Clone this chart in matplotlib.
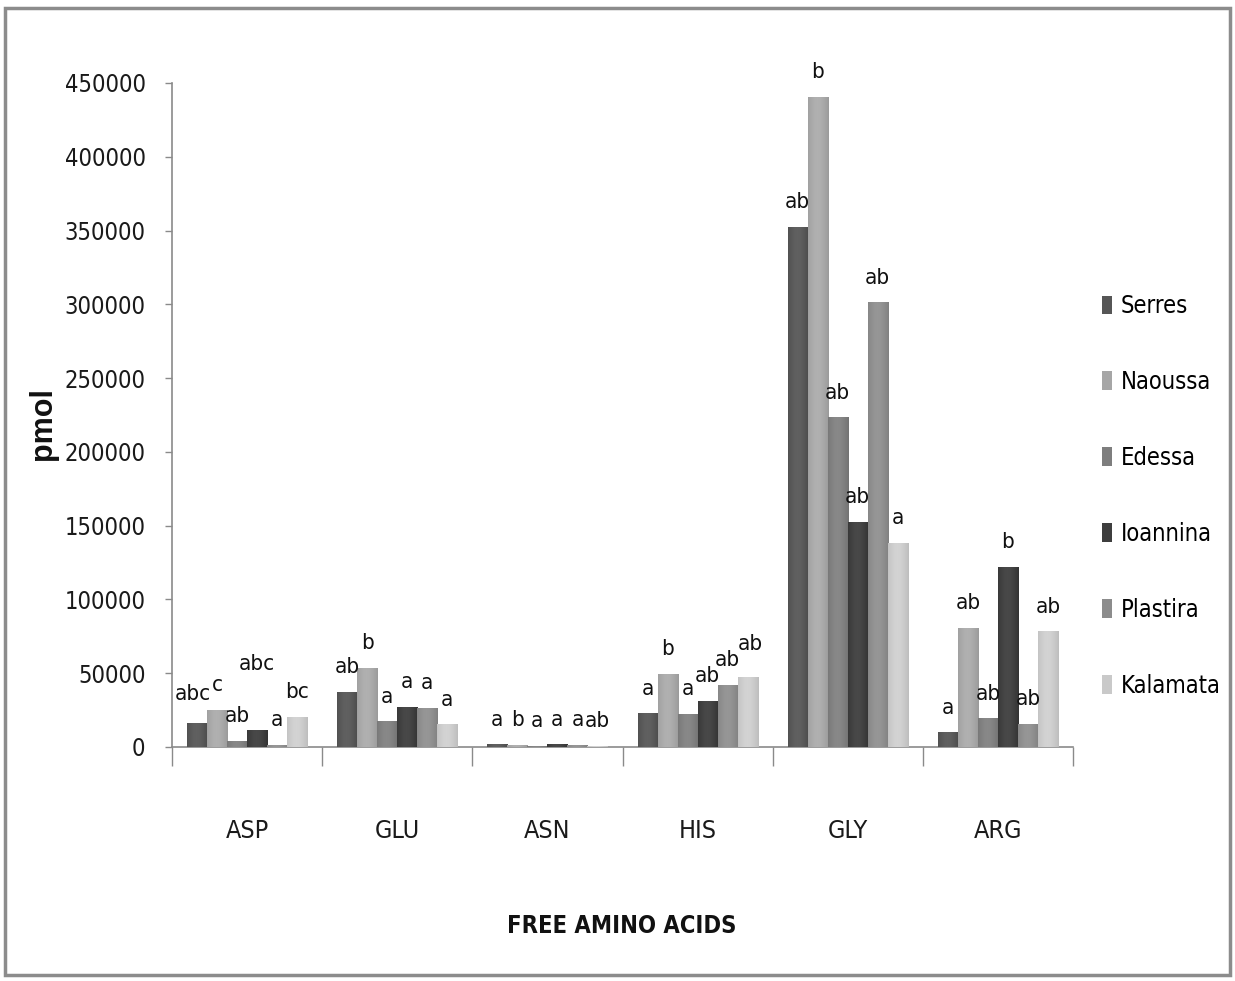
import os
import numpy as np
import matplotlib
matplotlib.use("Agg")
import matplotlib.pyplot as plt
from matplotlib import font_manager
from matplotlib.font_manager import FontProperties
from matplotlib.patches import Patch, Rectangle
from matplotlib.ticker import FixedLocator, NullFormatter

# amino acids on the x axis, one group of bars each
acids = ["ASP", "GLU", "ASN", "HIS", "GLY", "ARG"]
regions = ["Serres", "Naoussa", "Edessa", "Ioannina", "Plastira", "Kalamata"]

# pmol per region, same order as acids
serres   = [16000, 37000, 1500, 22500, 352000, 9500]
naoussa  = [25000, 53500, 1000, 49000, 440000, 80500]
edessa   = [4000, 17000, 500, 22000, 223000, 19000]
ioannina = [11000, 27000, 1500, 31000, 152000, 121500]
plastira = [1000, 26000, 1000, 42000, 301000, 15500]
kalamata = [20000, 15000, 500, 47000, 138000, 78000]

# significance letters above each bar
letters_serres   = ["abc", "ab", "a", "a", "ab", "a"]
letters_naoussa  = ["c", "b", "b", "b", "b", "ab"]
letters_edessa   = ["ab", "a", "a", "a", "ab", "ab"]
letters_ioannina = ["abc", "a", "a", "ab", "ab", "b"]
letters_plastira = ["a", "a", "a", "ab", "ab", "ab"]
letters_kalamata = ["bc", "a", "ab", "ab", "a", "ab"]

series = [serres, naoussa, edessa, ioannina, plastira, kalamata]
letters = [letters_serres, letters_naoussa, letters_edessa,
           letters_ioannina, letters_plastira, letters_kalamata]
greys = ["#565656", "#a6a6a6", "#7e7e7e", "#3e3e3e", "#8c8c8c", "#c9c9c9"]

# labels moved so they don't collide: (series index, acid index) -> (dx, dy) points
nudged = {(3, 0): (0, 30), (0, 0): (-3, 3), (5, 3): (2, 6)}


# look for a narrow sans face; otherwise plain Liberation Sans, a bit smaller
def find_face(bold):
    prefs = ["LiberationSansNarrow", "DejaVuSansCondensed", "RobotoCondensed",
             "OpenSans_Condensed", "OpenSansCondensed", "NotoSans-Condensed",
             "Condensed", "Narrow"]
    ok = set()
    for f in font_manager.fontManager.ttflist:
        base = os.path.basename(f.fname)
        if f.style != "normal":
            continue
        is_bold = "Bold" in base and "SemiBold" not in base and "ExtraBold" not in base
        if is_bold != bold:
            continue
        if any(k in base for k in ("Light", "Thin", "Black", "Medium",
                                   "Oblique", "Italic")):
            continue
        ok.add(f.fname)
    for p in prefs:
        for f in font_manager.fontManager.ttflist:
            if p in os.path.basename(f.fname) and f.fname in ok:
                return FontProperties(fname=f.fname), True
    fam = FontProperties(family=["Liberation Sans", "DejaVu Sans"],
                         weight="bold" if bold else "normal")
    return fam, False


reg_fp, narrow = find_face(False)
bold_fp, narrow_b = find_face(True)
fs = 17 if narrow else 14.5
fs_b = 17 if narrow_b else 15


def fp(size, bold=False):
    p = (bold_fp if bold else reg_fp).copy()
    p.set_size(size)
    return p


W, H = 1235, 981
fig = plt.figure(figsize=(W / 100, H / 100), dpi=100)
fig.patch.set_facecolor("white")
ax = fig.add_axes([172 / W, 1 - 747 / H, (1073 - 172) / W, (747 - 83) / H])

bw = 0.8 / len(regions)
centers = np.arange(len(acids)) + 0.5


def shaded(hexcol):
    # soft cylinder shading across the width of a bar
    base = np.array(matplotlib.colors.to_rgb(hexcol))
    t = np.linspace(0, 1, 24)
    k = 0.07 * np.cos((t - 0.45) * np.pi) - 0.03
    return np.clip(base[None, :] + k[:, None], 0, 1)[None, :, :]


for i, (vals, col, labs) in enumerate(zip(series, greys, letters)):
    xs = centers + (i - (len(regions) - 1) / 2) * bw
    ax.bar(xs, vals, width=bw, color=col, linewidth=0, zorder=2)
    grad = shaded(col)
    for j, (x, v, lab) in enumerate(zip(xs, vals, labs)):
        ax.imshow(grad, extent=(x - bw / 2, x + bw / 2, 0, v), aspect="auto",
                  interpolation="bilinear", zorder=3)
        dx, dy = nudged.get((i, j), (0, 0))
        ax.annotate(lab, (x, v), xytext=(dx, 11 + dy), textcoords="offset points",
                    ha="center", va="bottom", color="#111111",
                    fontproperties=fp(fs - 1), clip_on=False, zorder=4)

ax.set_xlim(0, len(acids))
ax.set_ylim(0, 450000)

for side in ["top", "right"]:
    ax.spines[side].set_visible(False)
for side in ["left", "bottom"]:
    ax.spines[side].set_color("#8a8a8a")
    ax.spines[side].set_linewidth(1.2)

yt = np.arange(0, 450001, 50000)
ax.set_yticks(yt)
ax.set_yticklabels([str(v) for v in yt], fontproperties=fp(fs), color="#1a1a1a")
ax.tick_params(axis="y", length=5, width=1, color="#8a8a8a", pad=14)

ax.set_xticks(centers)
ax.set_xticklabels(acids, fontproperties=fp(fs + 1), color="#1a1a1a")
ax.tick_params(axis="x", which="major", length=0, pad=52)
ax.xaxis.set_minor_locator(FixedLocator(np.arange(len(acids) + 1)))
ax.xaxis.set_minor_formatter(NullFormatter())
ax.tick_params(axis="x", which="minor", length=14, width=1, color="#8a8a8a")

fig.text(622 / W, 1 - 926 / H, "FREE AMINO ACIDS", ha="center", va="center",
         fontproperties=fp(fs_b, bold=True), color="#111111")
fig.text(43 / W, 1 - 424 / H, "pmol", ha="center", va="center", rotation=90,
         fontsize=22, fontweight="bold", color="#111111",
         family=["Liberation Sans", "DejaVu Sans"])

handles = [Patch(facecolor=c, edgecolor="none") for c in greys]
fig.legend(handles, regions, loc="center left",
           bbox_to_anchor=(1090 / W, 1 - 496 / H), frameon=False,
           prop=fp(fs), handlelength=0.45, handleheight=0.85,
           handletextpad=0.35, labelspacing=2.45 if not narrow else 2.2,
           borderpad=0)

fig.patches.append(Rectangle((5 / W, 1 - 975 / H), 1225 / W, 967 / H,
                             transform=fig.transFigure, fill=False,
                             edgecolor="#8c8c8c", linewidth=2.5))

fig.savefig("out.png", dpi=100)
